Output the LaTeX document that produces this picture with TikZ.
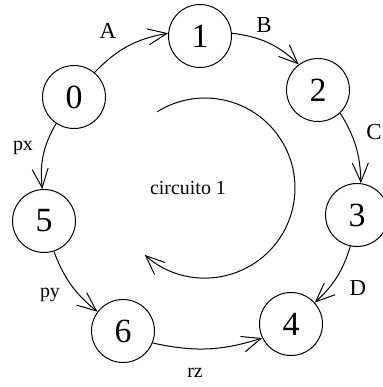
\documentclass[tikz,border=0pt]{standalone}
\usepackage{fontspec}
\setmainfont{Liberation Serif}
\usetikzlibrary{arrows.meta}
\begin{document}
\begin{tikzpicture}[x=1bp,y=1bp,
  line width=1bp,
  >={Straight Barb[length=19bp,width=16bp]},
  state/.style={circle,draw,minimum size=63bp,inner sep=0pt,font=\fontsize{34}{34}\selectfont},
  edgelbl/.style={font=\fontsize{20}{20}\selectfont,inner sep=0pt},
  letterlbl/.style={font=\fontsize{23}{23}\selectfont,inner sep=0pt},
  conn/.style={->}]
\clip (0,0) rectangle (383,387);
\node[state] (n0) at (74,290) {0};
\node[state] (n1) at (200,351) {1};
\node[state] (n2) at (318,297) {2};
\node[state] (n3) at (357,172) {3};
\node[state] (n4) at (291,63) {4};
\node[state] (n5) at (44,166) {5};
\node[state] (n6) at (123,56) {6};
\draw[conn] (n0.50) to[bend left=18] (n1.175);
\draw[conn] (n1.5) to[bend left=18] (n2.127);
\draw[conn] (n2.-46) to[bend left=15] (n3.83);
\draw[conn] (n3.-102) to[bend left=15] (n4.42);
\draw[conn] (n6.-22) to[bend right=15] (n4.-154);
\draw[conn] (n5.-72) to[bend right=15] (n6.143);
\draw[conn] (n0.-124) to[bend right=18] (n5.93);
\node[letterlbl] (lA) at (108,356) {A};
\node[letterlbl] (lB) at (264,362) {B};
\node[letterlbl] (lC) at (374,255) {C};
\node[letterlbl] (lD) at (358,99) {D};
\node[edgelbl] (lpx) at (23,239) {px};
\node[edgelbl] (lpy) at (50,92) {py};
\node[edgelbl] (lrz) at (195,14) {rz};
\node[edgelbl] (circ) at (188,199) {circuito 1};
\coordinate (arcstart) at (157.3,275.3);
\draw[->] (arcstart) arc[start angle=122,end angle=-132,radius=90];
\end{tikzpicture}
\end{document}
